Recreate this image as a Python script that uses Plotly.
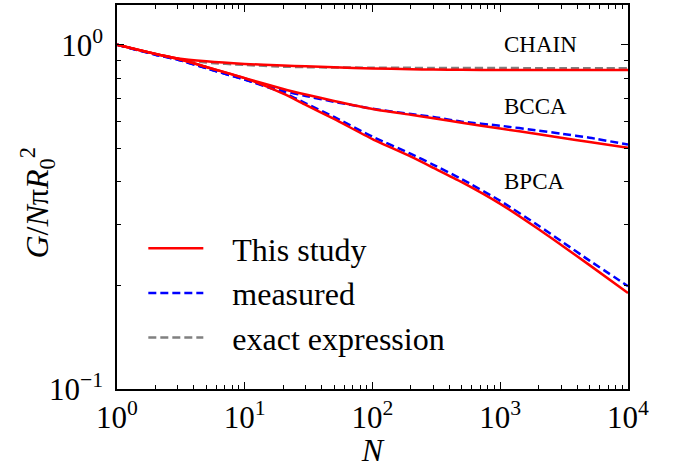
import numpy as np
import plotly.graph_objects as go

N = [1, 2, 3, 5, 10, 20, 30, 50, 100, 200, 300, 500, 1000, 2000, 3000, 5000, 10000]

# This study (red solid)
chain_study = [1.0, 0.94, 0.912, 0.895, 0.88, 0.87, 0.866, 0.86, 0.854, 0.849, 0.847, 0.846, 0.845, 0.845, 0.845, 0.845, 0.845]
bcca_study = [1.0, 0.941, 0.911, 0.862, 0.80, 0.744, 0.717, 0.687, 0.651, 0.626, 0.612, 0.594, 0.571, 0.550, 0.537, 0.522, 0.502]
bpca_study = [1.0, 0.941, 0.911, 0.862, 0.80, 0.721, 0.669, 0.609, 0.532, 0.473, 0.439, 0.399, 0.345, 0.291, 0.262, 0.229, 0.19]

# measured (blue dashed)
bcca_meas = [1.0, 0.936, 0.905, 0.855, 0.792, 0.735, 0.710, 0.683, 0.652, 0.629, 0.617, 0.598, 0.582, 0.563, 0.552, 0.537, 0.513]
bpca_meas = [1.0, 0.936, 0.905, 0.855, 0.792, 0.726, 0.676, 0.617, 0.541, 0.482, 0.448, 0.407, 0.352, 0.298, 0.269, 0.236, 0.199]

# exact expression (gray dashed)
chain_exact = [1.0, 0.94, 0.908, 0.888, 0.874, 0.864, 0.861, 0.859, 0.858, 0.857, 0.856, 0.856, 0.856, 0.855, 0.855, 0.855, 0.855]

x_tickvals = [1, 10, 100, 1000, 10000]
x_ticktext = ["10<sup>0</sup>", "10<sup>1</sup>", "10<sup>2</sup>", "10<sup>3</sup>", "10<sup>4</sup>"]
y_tickvals = [0.1, 1.0]
y_ticktext = ["10<sup>\u22121</sup>", "10<sup>0</sup>"]

labels = ["CHAIN", "BCCA", "BPCA"]
label_N = [1032, 1032, 1032]
label_G = [1.0, 0.664, 0.402]

RED = "#ff0000"
BLUE = "#0000ff"
GRAY = "#808080"
FONT = "Liberation Serif"
PAD = "\u00a0\u00a0\u00a0"

fig = go.Figure()
fig.add_trace(go.Scatter(x=N, y=chain_exact, mode="lines", line=dict(color=GRAY, width=2.5, dash="8px,4px", shape="spline", smoothing=0.6),
                         name=PAD + "exact expression", legendrank=3))
for i, ys in enumerate([bcca_meas, bpca_meas]):
    fig.add_trace(go.Scatter(x=N, y=ys, mode="lines", line=dict(color=BLUE, width=2.5, dash="8px,4px", shape="spline", smoothing=0.6),
                             name=PAD + "measured", showlegend=(i == 0), legendrank=2))
for i, ys in enumerate([chain_study, bcca_study, bpca_study]):
    fig.add_trace(go.Scatter(x=N, y=ys, mode="lines", line=dict(color=RED, width=2.5, shape="spline", smoothing=0.6),
                             name=PAD + "This study", showlegend=(i == 0), legendrank=1))

x_minor = [m * 10 ** e for e in range(0, 4) for m in range(2, 10)]
y_minor = [m * 0.1 for m in range(2, 10)]

axis_common = dict(showline=True, linecolor="black", linewidth=1.5, mirror="ticks", ticks="inside",
                   ticklen=7, tickwidth=1.2, tickcolor="black", showgrid=False, zeroline=False,
                   tickfont=dict(family=FONT, size=31, color="black"))

fig.update_xaxes(type="log", range=[0, 4], tickmode="array", tickvals=x_tickvals, ticktext=x_ticktext,
                 minor=dict(tickmode="array", tickvals=x_minor, ticks="inside", ticklen=4, tickwidth=1, tickcolor="black"),
                 title=dict(text="<i>N</i>", font=dict(family=FONT, size=32, color="black"), standoff=6),
                 **axis_common)
fig.update_yaxes(type="log", range=[-1, 0.1156], tickmode="array", tickvals=y_tickvals, ticktext=y_ticktext,
                 minor=dict(tickmode="array", tickvals=y_minor, ticks="inside", ticklen=4, tickwidth=1, tickcolor="black"),
                 ticklabelstandoff=6,
                 **axis_common)

for t, xn, yg in zip(labels, label_N, label_G):
    fig.add_annotation(x=np.log10(xn), y=np.log10(yg), text=t, showarrow=False, xanchor="left", yanchor="middle",
                       font=dict(family=FONT, size=23, color="black"))

fig.add_annotation(xref="paper", yref="paper", x=-0.155, y=0.485, text="<i>G</i>/<i>N</i>\u03c0<i>R</i><sub>0</sub><sup>2</sup>",
                   textangle=-90, showarrow=False, xanchor="center", yanchor="middle",
                   font=dict(family=FONT, size=32, color="black"))

fig.update_layout(
    width=673, height=468,
    margin=dict(l=117, r=45, t=3, b=79),
    paper_bgcolor="white", plot_bgcolor="white",
    legend=dict(x=0.0515, y=0.4375, xanchor="left", yanchor="top", bgcolor="rgba(0,0,0,0)",
                font=dict(family=FONT, size=32, color="black"), itemwidth=55, tracegroupgap=0),
    font=dict(family=FONT),
)

fig.write_html("out.html", post_script="document.body.style.margin='0';", config={"displayModeBar": False})
